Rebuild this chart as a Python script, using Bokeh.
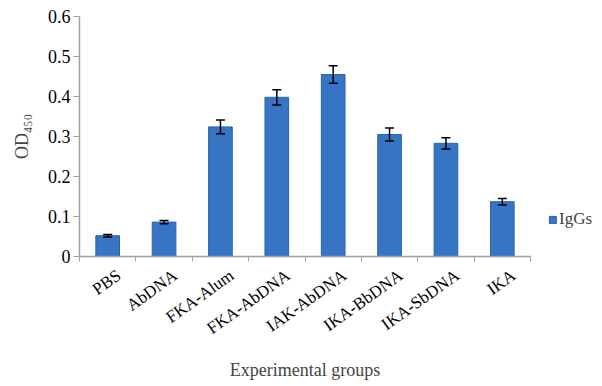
import math
from bokeh.plotting import figure
from bokeh.models import (ColumnDataSource, FixedTicker, Whisker, TeeHead,
                          Legend, LegendItem, Range1d)
from bokeh.embed import file_html
from bokeh.resources import INLINE

categories = ["PBS", "AbDNA", "FKA-Alum", "FKA-AbDNA", "IAK-AbDNA",
              "IKA-BbDNA", "IKA-SbDNA", "IKA"]
igg_values = [0.052, 0.086, 0.324, 0.398, 0.455, 0.305, 0.283, 0.137]
igg_errors = [0.003, 0.004, 0.017, 0.019, 0.022, 0.016, 0.014, 0.008]
y_ticks = [0, 0.1, 0.2, 0.3, 0.4, 0.5, 0.6]
y_tick_labels = ["0", "0.1", "0.2", "0.3", "0.4", "0.5", "0.6"]

FONT = "Liberation Serif"

xs = [i + 0.5 for i in range(len(categories))]
label_pos = [x + 0.2 for x in xs]
src = ColumnDataSource(dict(
    x=xs, top=igg_values,
    upper=[v + e for v, e in zip(igg_values, igg_errors)],
    lower=[v - e for v, e in zip(igg_values, igg_errors)],
))

p = figure(frame_width=451, frame_height=240, output_backend="svg",
           toolbar_location=None,
           x_range=Range1d(0, len(categories)), y_range=Range1d(0, 0.6),
           min_border_left=79, min_border_top=16, min_border_right=56,
           min_border_bottom=10)
p.outline_line_color = None
p.xgrid.visible = False
p.ygrid.visible = False

bars = p.vbar(x="x", top="top", width=0.42, source=src,
              fill_color="#3674c4", line_color="#2d63ad", line_width=1)

w = Whisker(base="x", upper="upper", lower="lower", source=src,
            line_color="black", line_width=1.5, level="overlay",
            upper_head=TeeHead(size=9, line_color="black", line_width=1.5),
            lower_head=TeeHead(size=9, line_color="black", line_width=1.5))
p.add_layout(w)

# x axis
p.xaxis.ticker = FixedTicker(ticks=label_pos, minor_ticks=list(range(len(categories) + 1)))
p.xaxis.major_label_overrides = {x: c for x, c in zip(label_pos, categories)}
p.xaxis.major_label_orientation = 0.62
p.xaxis.major_tick_out = 0
p.xaxis.major_tick_in = 0
p.xaxis.minor_tick_out = 5
p.xaxis.minor_tick_in = 0
p.xaxis.minor_tick_line_color = "#a0a0a0"
p.xaxis.axis_line_color = "#a0a0a0"
p.xaxis.axis_line_width = 1.5
p.xaxis.major_label_text_font = FONT
p.xaxis.major_label_text_font_size = "17px"
p.xaxis.major_label_text_color = "black"
p.xaxis.major_label_standoff = 12
p.xaxis.axis_label = "Experimental groups"
p.xaxis.axis_label_text_font = FONT
p.xaxis.axis_label_text_font_size = "18px"
p.xaxis.axis_label_text_font_style = "normal"
p.xaxis.axis_label_standoff = 12

# y axis
p.yaxis.ticker = FixedTicker(ticks=y_ticks, minor_ticks=[])
p.yaxis.major_label_overrides = {t: l for t, l in zip(y_ticks, y_tick_labels)}
p.yaxis.major_tick_out = 6
p.yaxis.major_tick_in = 0
p.yaxis.major_tick_line_color = "#a0a0a0"
p.yaxis.axis_line_color = "#a0a0a0"
p.yaxis.axis_line_width = 1.5
p.yaxis.major_label_text_font = FONT
p.yaxis.major_label_text_font_size = "18px"
p.yaxis.major_label_text_color = "black"
p.yaxis.major_label_standoff = 3
p.yaxis.axis_label = "OD₄₅₀"
p.yaxis.axis_label_text_font = FONT
p.yaxis.axis_label_text_font_size = "18px"
p.yaxis.axis_label_text_font_style = "normal"
p.yaxis.axis_label_standoff = 13

legend = Legend(items=[LegendItem(label="IgGs", renderers=[bars])],
                location=(18, 27), orientation="vertical",
                glyph_width=9, glyph_height=9, label_standoff=2,
                padding=0, margin=0, spacing=0,
                border_line_alpha=0, background_fill_alpha=0,
                label_text_font=FONT, label_text_font_size="17px")
p.add_layout(legend, "right")

open("out.html", "w").write(file_html(p, INLINE))
